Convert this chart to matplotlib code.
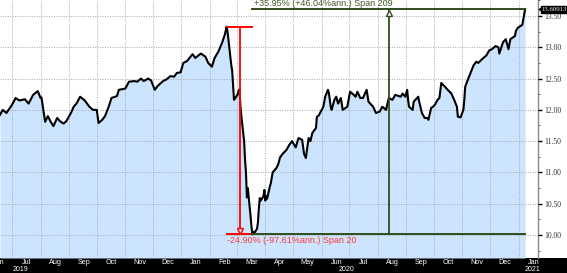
import matplotlib
matplotlib.use('Agg')
import matplotlib.pyplot as plt
import matplotlib.dates as mdates
import matplotlib.transforms as mtransforms
import numpy as np
import pandas as pd
from matplotlib.patches import Rectangle
from matplotlib.ticker import MultipleLocator, FormatStrFormatter

dates = [
    "2019-06-18", "2019-06-21", "2019-06-25", "2019-07-01", "2019-07-05", "2019-07-09",
    "2019-07-15", "2019-07-19", "2019-07-24", "2019-07-29", "2019-08-01", "2019-08-02",
    "2019-08-06", "2019-08-09", "2019-08-12", "2019-08-15", "2019-08-19", "2019-08-22",
    "2019-08-26", "2019-08-29", "2019-09-03", "2019-09-06", "2019-09-09", "2019-09-13",
    "2019-09-18", "2019-09-23", "2019-09-27", "2019-10-01", "2019-10-03", "2019-10-07",
    "2019-10-10", "2019-10-14", "2019-10-17", "2019-10-23", "2019-10-25", "2019-11-01",
    "2019-11-05", "2019-11-11", "2019-11-14", "2019-11-18", "2019-11-21", "2019-11-26",
    "2019-11-29", "2019-12-03", "2019-12-06", "2019-12-12", "2019-12-16", "2019-12-20",
    "2019-12-24", "2019-12-27", "2019-12-31", "2020-01-03", "2020-01-07", "2020-01-13",
    "2020-01-16", "2020-01-21", "2020-01-22", "2020-01-27", "2020-01-30", "2020-02-03",
    "2020-02-06", "2020-02-10", "2020-02-14", "2020-02-17", "2020-02-19", "2020-02-20",
    "2020-02-21", "2020-02-24", "2020-02-25", "2020-02-26", "2020-02-27", "2020-02-28",
    "2020-03-02", "2020-03-03", "2020-03-04", "2020-03-05", "2020-03-06", "2020-03-09",
    "2020-03-10", "2020-03-11", "2020-03-12", "2020-03-13", "2020-03-16", "2020-03-17",
    "2020-03-18", "2020-03-19", "2020-03-20", "2020-03-23", "2020-03-24", "2020-03-25",
    "2020-03-26", "2020-03-27", "2020-03-30", "2020-03-31", "2020-04-01", "2020-04-02",
    "2020-04-03", "2020-04-06", "2020-04-07", "2020-04-09", "2020-04-13", "2020-04-15",
    "2020-04-17", "2020-04-20", "2020-04-24", "2020-04-27", "2020-04-30", "2020-05-04",
    "2020-05-07", "2020-05-11", "2020-05-13", "2020-05-15", "2020-05-18", "2020-05-20",
    "2020-05-22", "2020-05-26", "2020-05-27", "2020-05-29", "2020-06-03", "2020-06-05",
    "2020-06-08", "2020-06-09", "2020-06-10", "2020-06-11", "2020-06-12", "2020-06-15",
    "2020-06-17", "2020-06-19", "2020-06-22", "2020-06-24", "2020-06-29", "2020-07-02",
    "2020-07-06", "2020-07-08", "2020-07-10", "2020-07-13", "2020-07-16", "2020-07-20",
    "2020-07-22", "2020-07-27", "2020-07-28", "2020-07-30", "2020-08-03", "2020-08-06",
    "2020-08-10", "2020-08-13", "2020-08-17", "2020-08-20", "2020-08-26", "2020-08-28",
    "2020-08-31", "2020-09-02", "2020-09-03", "2020-09-04", "2020-09-08", "2020-09-09",
    "2020-09-14", "2020-09-15", "2020-09-18", "2020-09-21", "2020-09-24", "2020-09-25",
    "2020-09-28", "2020-09-30", "2020-10-02", "2020-10-05", "2020-10-07", "2020-10-09",
    "2020-10-13", "2020-10-16", "2020-10-20", "2020-10-23", "2020-10-26", "2020-10-27",
    "2020-10-30", "2020-11-02", "2020-11-03", "2020-11-04", "2020-11-06", "2020-11-09",
    "2020-11-11", "2020-11-13", "2020-11-16", "2020-11-18", "2020-11-23", "2020-11-27",
    "2020-11-30", "2020-12-03", "2020-12-07", "2020-12-10", "2020-12-11", "2020-12-15",
    "2020-12-18", "2020-12-21", "2020-12-23", "2020-12-28", "2020-12-29", "2020-12-31",
    "2021-01-05", "2021-01-06", "2021-01-08",
]
values = [
    11.92, 12.00, 11.95, 12.08, 12.19, 12.15,
    12.17, 12.10, 12.24, 12.30, 12.19, 12.20,
    11.81, 11.90, 11.81, 11.74, 11.87, 11.82,
    11.78, 11.82, 11.95, 12.05, 12.10, 12.21,
    12.15, 12.05, 12.00, 12.00, 11.79, 11.84,
    11.90, 12.05, 12.19, 12.22, 12.32, 12.34,
    12.45, 12.46, 12.45, 12.50, 12.46, 12.50,
    12.47, 12.32, 12.38, 12.46, 12.49, 12.54,
    12.53, 12.59, 12.60, 12.75, 12.78, 12.89,
    12.83, 12.89, 12.90, 12.85, 12.75, 12.69,
    12.83, 12.93, 13.07, 13.20, 13.33, 13.25,
    13.12, 12.72, 12.63, 12.40, 12.16, 12.18,
    12.25, 12.30, 12.33, 12.05, 11.90, 11.50,
    11.20, 11.00, 10.60, 10.75, 10.30, 10.13,
    10.01, 10.05, 10.03, 10.10, 10.20, 10.43,
    10.59, 10.55, 10.62, 10.72, 10.55, 10.62,
    10.58, 10.78, 10.83, 11.00, 11.07, 11.13,
    11.24, 11.30, 11.36, 11.44, 11.50, 11.40,
    11.55, 11.52, 11.30, 11.23, 11.55, 11.50,
    11.63, 11.71, 11.89, 11.91, 12.05, 12.21,
    12.32, 12.27, 12.16, 12.05, 12.00, 12.16,
    12.21, 12.10, 12.19, 12.00, 12.05, 12.29,
    12.24, 12.21, 12.29, 12.19, 12.19, 12.32,
    12.13, 12.05, 12.02, 11.95, 11.97, 12.05,
    12.00, 12.19, 12.16, 12.24, 12.21, 12.26,
    12.21, 12.32, 12.16, 12.05, 12.00, 12.13,
    12.21, 12.13, 11.95, 11.87, 11.87, 11.84,
    12.03, 12.05, 12.08, 12.16, 12.19, 12.43,
    12.37, 12.32, 12.26, 12.16, 12.05, 11.89,
    11.88, 12.00, 12.16, 12.37, 12.45, 12.56,
    12.63, 12.71, 12.77, 12.75, 12.82, 12.87,
    12.95, 12.97, 13.02, 13.00, 12.90, 13.08,
    13.13, 12.97, 13.13, 13.18, 13.26, 13.31,
    13.36, 13.44, 13.60913,
]
month_label_dates = pd.date_range("2019-06-01", "2021-01-01", freq="MS") + pd.Timedelta(days=16)
year_labels = ["2019", "2020", "2021"]
year_label_dates = ["2019-07-10", "2020-06-28", "2021-01-16"]
drawdown_label = "-24.90% (-97.61%ann.) Span 20"
rally_label = "+35.95% (+46.04%ann.) Span 209"
last_label = "13.60913"

d = pd.to_datetime(dates)
v = np.array(values)

W, H = 567, 273
fig = plt.figure(figsize=(W / 100, H / 100), dpi=100)
fig.patch.set_facecolor('white')
band_h = 15
fig.patches.append(Rectangle((0, 0), 1, band_h / H, transform=fig.transFigure,
                             facecolor='black', edgecolor='none', zorder=-5))
ax = fig.add_axes([0, band_h / H, 538 / W, (H - band_h) / H])

ymin, ymax = 9.632, 13.756
ax.set_ylim(ymin, ymax)
ax.set_xlim(pd.Timestamp("2019-06-18"), pd.Timestamp("2021-01-22"))

fill_c = '#cce4fe'
ax.fill_between(d, v, ymin, color=fill_c, lw=0, zorder=1)
ax.plot(d, v, color='black', lw=1.5, zorder=5, solid_joinstyle='round')

# grid
ax.xaxis.set_major_locator(mdates.MonthLocator())
ax.yaxis.set_major_locator(MultipleLocator(0.5))
ax.yaxis.set_minor_locator(MultipleLocator(0.25))
ax.set_axisbelow(False)
ax.grid(True, which='major', color='#a4a8ad', linestyle=(0, (1, 1.5)), lw=0.7)
ax.tick_params(axis='x', which='both', length=0, labelbottom=False)

# right axis
ax.yaxis.tick_right()
ax.yaxis.set_major_formatter(FormatStrFormatter('%.2f'))
ax.tick_params(axis='y', which='major', direction='out', length=3, width=1.0,
               color='black', pad=1.5, labelsize=5.5, labelcolor='#333333')
ax.tick_params(axis='y', which='minor', direction='out', length=1.5, width=0.6, color='#555555')
for lab in ax.get_yticklabels():
    lab.set_family('Liberation Serif')
for s in ['left', 'top', 'bottom']:
    ax.spines[s].set_visible(False)
ax.spines['right'].set_color('#8a8a8a')
ax.spines['right'].set_linewidth(1.0)

# month & year labels in the black band
band_tr = mtransforms.blended_transform_factory(ax.transData, fig.transFigure)
for md in month_label_dates:
    ax.text(md, 10.0 / H, md.strftime('%b'), transform=band_tr,
            ha='center', va='center', color='white', fontsize=5.2,
            family='Liberation Sans', clip_on=False)
for yl, yd in zip(year_labels, year_label_dates):
    ax.text(pd.Timestamp(yd), 3.2 / H, yl, transform=band_tr,
            ha='center', va='center', color='white', fontsize=5.0,
            family='Liberation Sans', clip_on=False)

# drawdown annotation
low_i = int(np.argmin(v))
peak_i = int(np.argmax(v[:low_i + 1]))
last_i = len(v) - 1
red = '#ff0000'
ax.plot([d[peak_i], d[low_i]], [v[peak_i], v[peak_i]], color=red, lw=1.4, zorder=6)
ax.plot([d[peak_i], d[low_i]], [v[low_i], v[low_i]], color=red, lw=1.4, zorder=6)
mid_r = d[peak_i] + (d[low_i] - d[peak_i]) / 2
ax.plot([mid_r, mid_r], [v[peak_i], v[low_i]], color=red, lw=1.3, zorder=6)
ax.plot([mid_r], [v[low_i] + 0.055], marker='v', ms=4.5, mfc=fill_c, mec=red, mew=1.0, zorder=7)
ax.annotate(drawdown_label, xy=(d[peak_i], v[low_i]), xytext=(0.5, -1.0),
            textcoords='offset points', ha='left', va='top', color='#ff3b3b',
            fontsize=6.5, family='Liberation Sans', zorder=8)

# rally annotation
green = '#2f4c1c'
ax.plot([d[low_i], d[last_i]], [v[low_i], v[low_i]], color=green, lw=1.4, zorder=6)
ax.plot([d[low_i], d[last_i]], [v[last_i], v[last_i]], color=green, lw=1.4, zorder=6)
mid_g = d[low_i] + (d[last_i] - d[low_i]) / 2
ax.plot([mid_g, mid_g], [v[low_i], v[last_i]], color=green, lw=1.3, zorder=6)
ax.plot([mid_g], [v[last_i] - 0.055], marker='^', ms=4.5, mfc='white', mec=green, mew=1.0, zorder=7)
ax.annotate(rally_label, xy=(d[low_i], v[last_i]), xytext=(1, 0.8),
            textcoords='offset points', ha='left', va='bottom', color='#3d5c26',
            fontsize=6.5, family='Liberation Sans', zorder=8)

# last value tag
ax.plot([1.006], [v[last_i]], marker='<', ms=3.5, color='black',
        transform=ax.get_yaxis_transform(), clip_on=False, zorder=9)
ax.annotate(last_label, xy=(1.0, v[last_i]), xycoords=('axes fraction', 'data'),
            xytext=(2.6, 0), textcoords='offset points', ha='left', va='center',
            color='white', fontsize=4.9, family='Liberation Serif',
            bbox=dict(boxstyle='square,pad=0.12', fc='black', ec='black'),
            annotation_clip=False, zorder=9)

fig.savefig('out.png', dpi=100)
